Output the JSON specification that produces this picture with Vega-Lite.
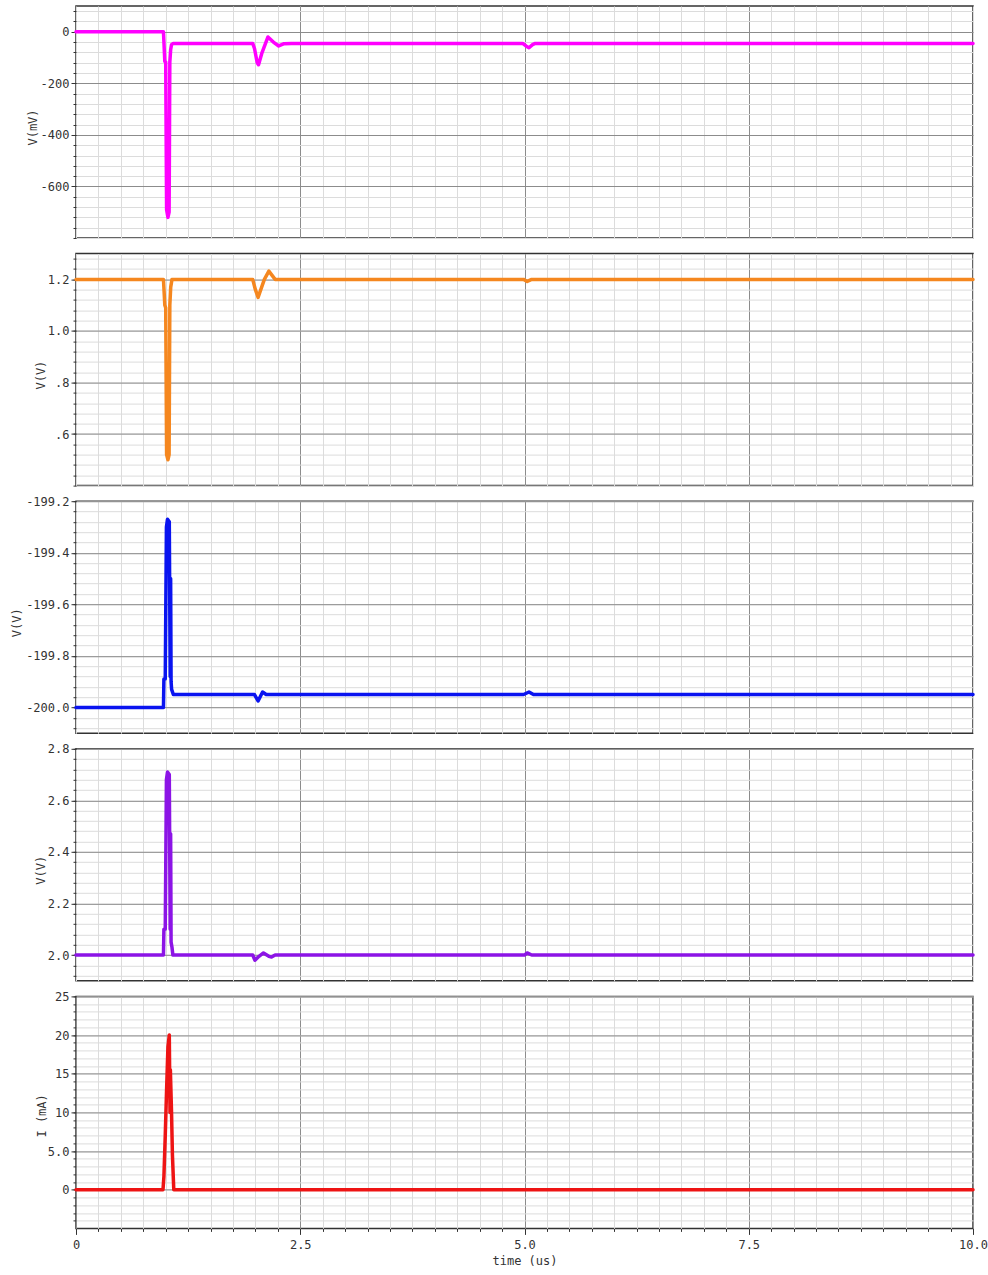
{
  "$schema": "https://vega.github.io/schema/vega-lite/v6.json",
  "background": "white",
  "padding": {"left": 9, "top": 5, "right": 0, "bottom": 0},
  "spacing": 15.6,
  "bounds": "flush",
  "config": {
    "font": "DejaVu Sans Mono",
    "view": {"stroke": "#333333", "strokeWidth": 1.5},
    "axis": {
      "labelFont": "DejaVu Sans Mono",
      "labelFontSize": 12,
      "labelColor": "#333333",
      "titleFont": "DejaVu Sans Mono",
      "titleFontSize": 12,
      "titleFontWeight": "normal",
      "titleColor": "#333333",
      "tickColor": "#333333",
      "gridWidth": 1,
      "domain": false
    },
    "line": {"strokeJoin": "round", "strokeCap": "round"}
  },
  "datasets": {
    "p1": [
      {"t": 0, "v": 0}, {"t": 0.975, "v": 0}, {"t": 0.99, "v": -115}, {"t": 1.0, "v": -118},
      {"t": 1.01, "v": -690}, {"t": 1.025, "v": -720}, {"t": 1.038, "v": -700}, {"t": 1.046, "v": -118},
      {"t": 1.055, "v": -70}, {"t": 1.065, "v": -50}, {"t": 1.085, "v": -45},
      {"t": 1.97, "v": -45}, {"t": 1.99, "v": -65}, {"t": 2.02, "v": -120}, {"t": 2.035, "v": -128},
      {"t": 2.07, "v": -85}, {"t": 2.14, "v": -20}, {"t": 2.2, "v": -40}, {"t": 2.26, "v": -55},
      {"t": 2.32, "v": -46}, {"t": 2.4, "v": -45},
      {"t": 4.98, "v": -45}, {"t": 5.02, "v": -56}, {"t": 5.05, "v": -62}, {"t": 5.09, "v": -50},
      {"t": 5.12, "v": -45}, {"t": 10, "v": -45}
    ],
    "p2": [
      {"t": 0, "v": 1.2}, {"t": 0.975, "v": 1.2}, {"t": 0.99, "v": 1.1}, {"t": 1.0, "v": 1.09},
      {"t": 1.01, "v": 0.52}, {"t": 1.025, "v": 0.5}, {"t": 1.038, "v": 0.52}, {"t": 1.046, "v": 1.1},
      {"t": 1.056, "v": 1.17}, {"t": 1.07, "v": 1.2},
      {"t": 1.97, "v": 1.2}, {"t": 2.0, "v": 1.16}, {"t": 2.03, "v": 1.13}, {"t": 2.1, "v": 1.2},
      {"t": 2.15, "v": 1.232}, {"t": 2.22, "v": 1.2},
      {"t": 4.99, "v": 1.2}, {"t": 5.03, "v": 1.192}, {"t": 5.08, "v": 1.2}, {"t": 10, "v": 1.2}
    ],
    "p3": [
      {"t": 0, "v": -200.0}, {"t": 0.975, "v": -200.0}, {"t": 0.98, "v": -199.89}, {"t": 0.995, "v": -199.89},
      {"t": 1.008, "v": -199.3}, {"t": 1.02, "v": -199.27}, {"t": 1.04, "v": -199.28}, {"t": 1.05, "v": -199.88},
      {"t": 1.055, "v": -199.5}, {"t": 1.06, "v": -199.9}, {"t": 1.066, "v": -199.93}, {"t": 1.085, "v": -199.95},
      {"t": 1.99, "v": -199.95}, {"t": 2.03, "v": -199.975}, {"t": 2.08, "v": -199.94}, {"t": 2.12, "v": -199.95},
      {"t": 4.99, "v": -199.95}, {"t": 5.05, "v": -199.94}, {"t": 5.1, "v": -199.95}, {"t": 10, "v": -199.95}
    ],
    "p4": [
      {"t": 0, "v": 2.0}, {"t": 0.975, "v": 2.0}, {"t": 0.98, "v": 2.1}, {"t": 0.995, "v": 2.1},
      {"t": 1.008, "v": 2.68}, {"t": 1.02, "v": 2.71}, {"t": 1.04, "v": 2.7}, {"t": 1.05, "v": 2.1},
      {"t": 1.055, "v": 2.47}, {"t": 1.06, "v": 2.05}, {"t": 1.07, "v": 2.03}, {"t": 1.08, "v": 2.0},
      {"t": 1.97, "v": 2.0}, {"t": 1.995, "v": 1.98}, {"t": 2.04, "v": 1.995}, {"t": 2.09, "v": 2.008},
      {"t": 2.15, "v": 1.995}, {"t": 2.18, "v": 1.992}, {"t": 2.22, "v": 2.0},
      {"t": 5.0, "v": 2.0}, {"t": 5.03, "v": 2.008}, {"t": 5.08, "v": 2.0}, {"t": 10, "v": 2.0}
    ],
    "p5": [
      {"t": 0, "v": 0}, {"t": 0.97, "v": 0}, {"t": 0.98, "v": 1.7}, {"t": 0.995, "v": 7},
      {"t": 1.01, "v": 13}, {"t": 1.025, "v": 18.5}, {"t": 1.04, "v": 20}, {"t": 1.048, "v": 10},
      {"t": 1.052, "v": 15.5}, {"t": 1.065, "v": 10}, {"t": 1.075, "v": 4.5}, {"t": 1.09, "v": 0},
      {"t": 10, "v": 0}
    ]
  },
  "vconcat": [
    {
      "width": 897, "height": 232,
      "data": {"name": "p1"},
      "resolve": {"scale": {"x": "independent", "y": "independent"}},
      "layer": [
        {
          "mark": {"type": "line", "strokeOpacity": 0},
          "encoding": {
            "x": {"field": "t", "type": "quantitative", "scale": {"domain": [0, 10], "nice": false, "zero": false},
              "axis": {"orient": "bottom", "values": [0,0.25,0.5,0.75,1,1.25,1.5,1.75,2,2.25,2.5,2.75,3,3.25,3.5,3.75,4,4.25,4.5,4.75,5,5.25,5.5,5.75,6,6.25,6.5,6.75,7,7.25,7.5,7.75,8,8.25,8.5,8.75,9,9.25,9.5,9.75,10], "grid": true, "gridColor": "#dcdcdc", "labels": false, "ticks": false, "title": null}},
            "y": {"field": "v", "type": "quantitative", "scale": {"domain": [-800, 100], "nice": false, "zero": false},
              "axis": {"orient": "left", "values": [-800,-760,-720,-680,-640,-600,-560,-520,-480,-440,-400,-360,-320,-280,-240,-200,-160,-120,-80,-40,0,40,80], "grid": true, "gridColor": "#dcdcdc", "labels": false, "ticks": true, "tickSize": 3, "title": null}}
          }
        },
        {
          "mark": {"type": "line", "color": "#ff00ff", "strokeWidth": 3.5},
          "encoding": {
            "x": {"field": "t", "type": "quantitative", "scale": {"domain": [0, 10], "nice": false, "zero": false},
              "axis": {"orient": "bottom", "values": [2.5, 5, 7.5], "grid": true, "gridColor": "#8c8c8c", "labels": false, "ticks": false, "title": null}},
            "y": {"field": "v", "type": "quantitative", "scale": {"domain": [-800, 100], "nice": false, "zero": false},
              "axis": {"orient": "left", "values": [-600, -400, -200, 0], "grid": true, "gridColor": "#8c8c8c", "tickSize": 5, "labelPadding": 2,
                "labelExpr": "datum.value < 0 ? '-' + format(-datum.value, 'd') : format(datum.value, 'd')",
                "title": "V(mV)", "titleX": -44, "titleY": 121, "titleBaseline": "middle"}}
          }
        }
      ]
    },
    {
      "width": 897, "height": 232,
      "data": {"name": "p2"},
      "resolve": {"scale": {"x": "independent", "y": "independent"}},
      "layer": [
        {
          "mark": {"type": "line", "strokeOpacity": 0},
          "encoding": {
            "x": {"field": "t", "type": "quantitative", "scale": {"domain": [0, 10], "nice": false, "zero": false},
              "axis": {"orient": "bottom", "values": [0,0.25,0.5,0.75,1,1.25,1.5,1.75,2,2.25,2.5,2.75,3,3.25,3.5,3.75,4,4.25,4.5,4.75,5,5.25,5.5,5.75,6,6.25,6.5,6.75,7,7.25,7.5,7.75,8,8.25,8.5,8.75,9,9.25,9.5,9.75,10], "grid": true, "gridColor": "#dcdcdc", "labels": false, "ticks": false, "title": null}},
            "y": {"field": "v", "type": "quantitative", "scale": {"domain": [0.4, 1.3], "nice": false, "zero": false},
              "axis": {"orient": "left", "values": [0.4,0.44,0.48,0.52,0.56,0.6,0.64,0.68,0.72,0.76,0.8,0.84,0.88,0.92,0.96,1.0,1.04,1.08,1.12,1.16,1.2,1.24,1.28], "grid": true, "gridColor": "#dcdcdc", "labels": false, "ticks": true, "tickSize": 3, "title": null}}
          }
        },
        {
          "mark": {"type": "line", "color": "#f5871f", "strokeWidth": 3.5},
          "encoding": {
            "x": {"field": "t", "type": "quantitative", "scale": {"domain": [0, 10], "nice": false, "zero": false},
              "axis": {"orient": "bottom", "values": [2.5, 5, 7.5], "grid": true, "gridColor": "#8c8c8c", "labels": false, "ticks": false, "title": null}},
            "y": {"field": "v", "type": "quantitative", "scale": {"domain": [0.4, 1.3], "nice": false, "zero": false},
              "axis": {"orient": "left", "values": [0.6, 0.8, 1.0, 1.2], "grid": true, "gridColor": "#8c8c8c", "tickSize": 5, "labelPadding": 2,
                "labelExpr": "datum.value < 1 ? '.' + format(datum.value * 10, 'd') : format(datum.value, '.1f')",
                "title": "V(V)", "titleX": -36, "titleY": 121, "titleBaseline": "middle"}}
          }
        }
      ]
    },
    {
      "width": 897, "height": 232,
      "data": {"name": "p3"},
      "resolve": {"scale": {"x": "independent", "y": "independent"}},
      "layer": [
        {
          "mark": {"type": "line", "strokeOpacity": 0},
          "encoding": {
            "x": {"field": "t", "type": "quantitative", "scale": {"domain": [0, 10], "nice": false, "zero": false},
              "axis": {"orient": "bottom", "values": [0,0.25,0.5,0.75,1,1.25,1.5,1.75,2,2.25,2.5,2.75,3,3.25,3.5,3.75,4,4.25,4.5,4.75,5,5.25,5.5,5.75,6,6.25,6.5,6.75,7,7.25,7.5,7.75,8,8.25,8.5,8.75,9,9.25,9.5,9.75,10], "grid": true, "gridColor": "#dcdcdc", "labels": false, "ticks": false, "title": null}},
            "y": {"field": "v", "type": "quantitative", "scale": {"domain": [-200.1, -199.2], "nice": false, "zero": false},
              "axis": {"orient": "left", "values": [-200.08,-200.04,-200,-199.96,-199.92,-199.88,-199.84,-199.8,-199.76,-199.72,-199.68,-199.64,-199.6,-199.56,-199.52,-199.48,-199.44,-199.4,-199.36,-199.32,-199.28,-199.24,-199.2], "grid": true, "gridColor": "#dcdcdc", "labels": false, "ticks": true, "tickSize": 3, "title": null}}
          }
        },
        {
          "mark": {"type": "line", "color": "#0a14f0", "strokeWidth": 3.5},
          "encoding": {
            "x": {"field": "t", "type": "quantitative", "scale": {"domain": [0, 10], "nice": false, "zero": false},
              "axis": {"orient": "bottom", "values": [2.5, 5, 7.5], "grid": true, "gridColor": "#8c8c8c", "labels": false, "ticks": false, "title": null}},
            "y": {"field": "v", "type": "quantitative", "scale": {"domain": [-200.1, -199.2], "nice": false, "zero": false},
              "axis": {"orient": "left", "values": [-200.0, -199.8, -199.6, -199.4, -199.2], "grid": true, "gridColor": "#8c8c8c", "tickSize": 5, "labelPadding": 2,
                "labelExpr": "'-' + format(-datum.value, '.1f')",
                "title": "V(V)", "titleX": -60, "titleY": 121, "titleBaseline": "middle"}}
          }
        }
      ]
    },
    {
      "width": 897, "height": 232,
      "data": {"name": "p4"},
      "resolve": {"scale": {"x": "independent", "y": "independent"}},
      "layer": [
        {
          "mark": {"type": "line", "strokeOpacity": 0},
          "encoding": {
            "x": {"field": "t", "type": "quantitative", "scale": {"domain": [0, 10], "nice": false, "zero": false},
              "axis": {"orient": "bottom", "values": [0,0.25,0.5,0.75,1,1.25,1.5,1.75,2,2.25,2.5,2.75,3,3.25,3.5,3.75,4,4.25,4.5,4.75,5,5.25,5.5,5.75,6,6.25,6.5,6.75,7,7.25,7.5,7.75,8,8.25,8.5,8.75,9,9.25,9.5,9.75,10], "grid": true, "gridColor": "#dcdcdc", "labels": false, "ticks": false, "title": null}},
            "y": {"field": "v", "type": "quantitative", "scale": {"domain": [1.9, 2.8], "nice": false, "zero": false},
              "axis": {"orient": "left", "values": [1.92,1.96,2.0,2.04,2.08,2.12,2.16,2.2,2.24,2.28,2.32,2.36,2.4,2.44,2.48,2.52,2.56,2.6,2.64,2.68,2.72,2.76,2.8], "grid": true, "gridColor": "#dcdcdc", "labels": false, "ticks": true, "tickSize": 3, "title": null}}
          }
        },
        {
          "mark": {"type": "line", "color": "#8c14e6", "strokeWidth": 3.5},
          "encoding": {
            "x": {"field": "t", "type": "quantitative", "scale": {"domain": [0, 10], "nice": false, "zero": false},
              "axis": {"orient": "bottom", "values": [2.5, 5, 7.5], "grid": true, "gridColor": "#8c8c8c", "labels": false, "ticks": false, "title": null}},
            "y": {"field": "v", "type": "quantitative", "scale": {"domain": [1.9, 2.8], "nice": false, "zero": false},
              "axis": {"orient": "left", "values": [2.0, 2.2, 2.4, 2.6, 2.8], "grid": true, "gridColor": "#8c8c8c", "tickSize": 5, "labelPadding": 2,
                "format": ".1f",
                "title": "V(V)", "titleX": -36, "titleY": 121, "titleBaseline": "middle"}}
          }
        }
      ]
    },
    {
      "width": 897, "height": 232,
      "data": {"name": "p5"},
      "resolve": {"scale": {"x": "independent", "y": "independent"}},
      "layer": [
        {
          "mark": {"type": "line", "strokeOpacity": 0},
          "encoding": {
            "x": {"field": "t", "type": "quantitative", "scale": {"domain": [0, 10], "nice": false, "zero": false},
              "axis": {"orient": "bottom", "values": [0,0.25,0.5,0.75,1,1.25,1.5,1.75,2,2.25,2.5,2.75,3,3.25,3.5,3.75,4,4.25,4.5,4.75,5,5.25,5.5,5.75,6,6.25,6.5,6.75,7,7.25,7.5,7.75,8,8.25,8.5,8.75,9,9.25,9.5,9.75,10], "grid": true, "gridColor": "#dcdcdc", "labels": false, "ticks": true, "tickSize": 3, "title": null}},
            "y": {"field": "v", "type": "quantitative", "scale": {"domain": [-5, 25], "nice": false, "zero": false},
              "axis": {"orient": "left", "values": [-4,-3,-2,-1,0,1,2,3,4,5,6,7,8,9,10,11,12,13,14,15,16,17,18,19,20,21,22,23,24,25], "grid": true, "gridColor": "#dcdcdc", "labels": false, "ticks": true, "tickSize": 3, "title": null}}
          }
        },
        {
          "mark": {"type": "line", "color": "#ee1414", "strokeWidth": 3.5},
          "encoding": {
            "x": {"field": "t", "type": "quantitative", "scale": {"domain": [0, 10], "nice": false, "zero": false},
              "axis": {"orient": "bottom", "values": [0, 2.5, 5, 7.5, 10], "grid": true, "gridColor": "#8c8c8c", "ticks": true, "tickSize": 6, "labelPadding": 5, "labelFlush": false,
                "labelExpr": "datum.value == 0 ? '0' : format(datum.value, '.1f')",
                "title": "time (us)", "titlePadding": 5}},
            "y": {"field": "v", "type": "quantitative", "scale": {"domain": [-5, 25], "nice": false, "zero": false},
              "axis": {"orient": "left", "values": [0, 5, 10, 15, 20, 25], "grid": true, "gridColor": "#8c8c8c", "tickSize": 5, "labelPadding": 2,
                "labelExpr": "datum.value == 5 ? '5.0' : format(datum.value, 'd')",
                "title": "I (mA)", "titleX": -35, "titleY": 119, "titleBaseline": "middle"}}
          }
        }
      ]
    }
  ]
}
